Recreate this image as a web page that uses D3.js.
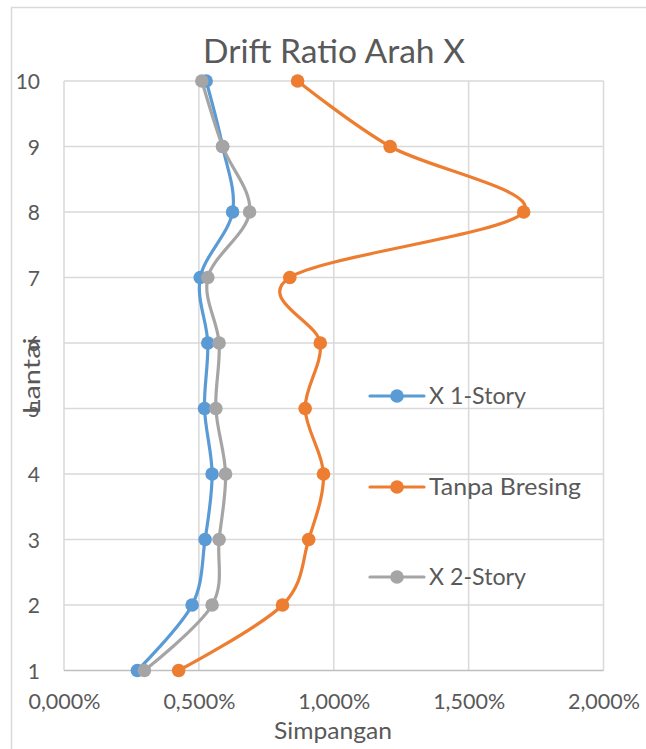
<!DOCTYPE html>
<html>
<head>
<meta charset="utf-8">
<script src="https://cdn.jsdelivr.net/npm/d3@7"></script>
<style>
  html, body { margin: 0; padding: 0; background: #ffffff; }
  svg { display: block; }
  text { font-family: Lato, "Noto Sans", sans-serif; fill: #595959; }
</style>
</head>
<body>
<svg id="chart" width="646" height="749"></svg>
<script>
// Floors (Lantai) and story drift ratios in fraction form (0.005 = 0,500%)
const floors = [1, 2, 3, 4, 5, 6, 7, 8, 9, 10];
const x1Story = [0.00272, 0.00475, 0.00523, 0.00549, 0.00521, 0.00533, 0.00505, 0.00625, 0.00588, 0.00527];
const tanpaBresing = [0.00425, 0.00810, 0.00907, 0.00962, 0.00894, 0.00950, 0.00837, 0.01704, 0.01209, 0.00866];
const x2Story = [0.00298, 0.00549, 0.00575, 0.00599, 0.00563, 0.00575, 0.00533, 0.00688, 0.00588, 0.00511];

const seriesNames = ["X 1-Story", "Tanpa Bresing", "X 2-Story"];
const seriesColors = ["#5B9BD5", "#ED7D31", "#A5A5A5"];
const xTicks = [0, 0.005, 0.01, 0.015, 0.02];
const yTicks = floors;

const titleText = "Drift Ratio Arah X";
const xTitle = "Simpangan";
const yTitle = "Lantai";

const series = [x1Story, tanpaBresing, x2Story].map((vals, i) => ({
  name: seriesNames[i],
  color: seriesColors[i],
  points: floors.map((f, j) => ({ floor: f, v: vals[j] }))
}));

const svg = d3.select("#chart");

// Chart frame
svg.append("rect")
  .attr("x", 11.5).attr("y", 7.5)
  .attr("width", 700).attr("height", 800)
  .attr("fill", "none").attr("stroke", "#d9d9d9").attr("stroke-width", 1.5);

const plot = { left: 64, right: 603.5, top: 81, bottom: 670.5 };

const x = d3.scaleLinear().domain([0, 0.02]).range([plot.left, plot.right]);
const y = d3.scaleLinear().domain([1, 10]).range([plot.bottom, plot.top]);

const idLocale = d3.formatLocale({ decimal: ",", thousands: ".", grouping: [3], currency: ["", ""] });
const pct = idLocale.format(".3%");

// Gridlines
const grid = svg.append("g").attr("stroke", "#d9d9d9").attr("stroke-width", 1.5);
grid.selectAll("line.v").data(xTicks).join("line")
  .attr("class", "v")
  .attr("x1", d => x(d)).attr("x2", d => x(d))
  .attr("y1", plot.top).attr("y2", plot.bottom);
grid.selectAll("line.h").data(yTicks.filter(d => d !== 1)).join("line")
  .attr("class", "h")
  .attr("x1", plot.left).attr("x2", plot.right)
  .attr("y1", d => y(d)).attr("y2", d => y(d));

// Horizontal axis line
svg.append("line")
  .attr("x1", plot.left).attr("x2", plot.right)
  .attr("y1", y(1)).attr("y2", y(1))
  .attr("stroke", "#bfbfbf").attr("stroke-width", 1.5);

// X tick labels
const xAxis = d3.axisBottom(x).tickValues(xTicks).tickFormat(pct).tickSize(0).tickPadding(0);
const gx = svg.append("g").attr("transform", `translate(0,${plot.bottom})`).call(xAxis);
gx.select(".domain").remove();
gx.selectAll("text")
  .attr("y", 38.5).attr("dy", null)
  .attr("font-size", 21).style("fill", "#595959")
  .attr("font-family", "Lato, sans-serif")
  .attr("textLength", 72).attr("lengthAdjust", "spacingAndGlyphs");

// Y tick labels
const yAxis = d3.axisLeft(y).tickValues(yTicks).tickFormat(d3.format("d")).tickSize(0).tickPadding(0);
const gy = svg.append("g").attr("transform", `translate(40,0)`).call(yAxis);
gy.select(".domain").remove();
gy.selectAll("text")
  .attr("x", 0).attr("dy", "0.36em")
  .attr("font-size", 21).style("fill", "#595959")
  .attr("font-family", "Lato, sans-serif");

// Series lines (smoothed) and markers
const line = d3.line()
  .x(d => x(d.v))
  .y(d => y(d.floor))
  .curve(d3.curveCatmullRom.alpha(0));

series.forEach(s => {
  const g = svg.append("g");
  g.append("path")
    .attr("d", line(s.points))
    .attr("fill", "none")
    .attr("stroke", s.color)
    .attr("stroke-width", 3.2)
    .attr("stroke-linejoin", "round")
    .attr("stroke-linecap", "round");
  g.selectAll("circle").data(s.points).join("circle")
    .attr("cx", d => x(d.v))
    .attr("cy", d => y(d.floor))
    .attr("r", 6.8)
    .attr("fill", s.color);
});

// Legend
const legendY = [396, 487, 577];
const legendWidths = [97, 152, 97];
const legend = svg.append("g");
series.forEach((s, i) => {
  const g = legend.append("g").attr("transform", `translate(0,${legendY[i]})`);
  g.append("line")
    .attr("x1", 370).attr("x2", 424)
    .attr("y1", 0).attr("y2", 0)
    .attr("stroke", s.color).attr("stroke-width", 3.2).attr("stroke-linecap", "round");
  g.append("circle").attr("cx", 397).attr("cy", 0).attr("r", 6.8).attr("fill", s.color);
  g.append("text")
    .attr("x", 429).attr("y", 0).attr("dy", "0.36em")
    .attr("font-size", 23)
    .attr("textLength", legendWidths[i]).attr("lengthAdjust", "spacingAndGlyphs")
    .text(s.name);
});

// Title
svg.append("text")
  .attr("x", 334).attr("y", 63)
  .attr("text-anchor", "middle")
  .attr("font-size", 32)
  .attr("textLength", 262).attr("lengthAdjust", "spacingAndGlyphs")
  .text(titleText);

// Axis titles
svg.append("text")
  .attr("x", 333).attr("y", 739)
  .attr("text-anchor", "middle")
  .attr("font-size", 23)
  .attr("textLength", 118).attr("lengthAdjust", "spacingAndGlyphs")
  .text(xTitle);

svg.append("text")
  .attr("transform", "translate(40,376) rotate(-90)")
  .attr("text-anchor", "middle")
  .attr("font-size", 23)
  .attr("textLength", 77).attr("lengthAdjust", "spacingAndGlyphs")
  .text(yTitle);
</script>
</body>
</html>
